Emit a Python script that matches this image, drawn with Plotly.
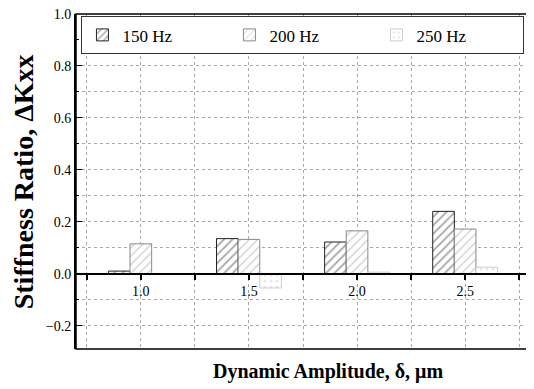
import plotly.graph_objects as go

amplitudes = [1.0, 1.5, 2.0, 2.5]
hz150 = [0.010, 0.135, 0.122, 0.240]
hz200 = [0.115, 0.132, 0.165, 0.172]
hz250 = [0.000, -0.055, 0.006, 0.025]
series_names = ["150 Hz", "200 Hz", "250 Hz"]

FONT = "Liberation Serif"
y_range = [-0.29, 1.0]
zero_pos = (0 - y_range[0]) / (y_range[1] - y_range[0])

fig = go.Figure()
styles = [
    dict(fg="#4a4a4a", line="#222222", shape="/", solid=0.3),
    dict(fg="#9a9a9a", line="#8a8a8a", shape="/", solid=0.2),
    dict(fg="#cfcfcf", line="#cccccc", shape=".", solid=0.2),
]
for name, vals, st in zip(series_names, [hz150, hz200, hz250], styles):
    fig.add_trace(go.Bar(
        x=amplitudes, y=vals, name=name,
        marker=dict(color="white",
                    line=dict(color=st["line"], width=1),
                    pattern=dict(shape=st["shape"], fgcolor=st["fg"], bgcolor="white",
                                 size=6, solidity=st["solid"])),
    ))

grid = "#a8a8a8"
fig.update_layout(
    width=526, height=381,
    margin=dict(l=68, r=4, t=6, b=40),
    paper_bgcolor="white", plot_bgcolor="white",
    barmode="group", bargap=0.4, bargroupgap=0,
    font=dict(family=FONT, size=13, color="black"),
    showlegend=True,
    legend=dict(orientation="h", x=0.012, y=0.993, xanchor="left", yanchor="top",
                bordercolor="#333333", borderwidth=1, bgcolor="white",
                font=dict(family=FONT, size=17), entrywidth=102),
    xaxis=dict(range=[0.7, 2.8], tick0=1.0, dtick=0.5, tickformat=".1f",
               anchor="free", position=zero_pos, automargin=False,
               showline=True, linecolor="black", linewidth=2,
               ticks="outside", ticklen=5, tickwidth=1.5, tickcolor="black",
               showgrid=True, gridcolor=grid, griddash="dot", gridwidth=1,
               minor=dict(dtick=0.25, ticks="outside", ticklen=5, tickcolor="black",
                          showgrid=True, gridcolor=grid, griddash="dot"),
               zeroline=False, tickfont=dict(family=FONT, size=14),
               ticklabeloverflow="allow"),
    yaxis=dict(range=y_range, tick0=0, dtick=0.2, tickformat=".1f", automargin=False,
               showline=True, linecolor="black", linewidth=2,
               ticks="inside", ticklen=6, tickcolor="black",
               showgrid=True, gridcolor=grid, griddash="dot", gridwidth=1,
               minor=dict(dtick=0.1, ticks="inside", ticklen=3, tickcolor="black",
                          showgrid=True, gridcolor=grid, griddash="dot"),
               zeroline=False, tickfont=dict(family=FONT, size=14),
               ticklabeloverflow="allow"),
)
fig.add_shape(type="rect", xref="paper", yref="paper", x0=0, x1=1, y0=0, y1=1,
              line=dict(color="black", width=1.5), layer="above")
fig.add_annotation(text="<b>Dynamic Amplitude, δ, μm</b>", xref="paper", yref="paper",
                   x=0.555, y=-0.066, xanchor="center", yanchor="middle", showarrow=False,
                   font=dict(family=FONT, size=20))
fig.add_annotation(text="<b>Stiffness Ratio, ΔKxx</b>", xref="paper", yref="paper",
                   x=-0.115, y=0.5, xanchor="center", yanchor="middle", showarrow=False,
                   textangle=-90, font=dict(family=FONT, size=28))
fig.write_html("out.html")
